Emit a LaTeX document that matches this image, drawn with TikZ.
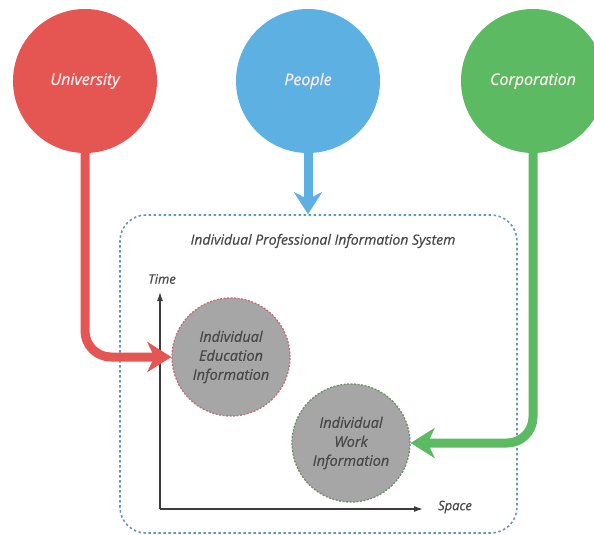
\documentclass[tikz,border=0pt]{standalone}
\usepackage{fontspec}
\setmainfont{Open Sans}
\newfontfamily\semib{Open Sans}[FakeBold=0.5]
\usetikzlibrary{arrows.meta}
\definecolor{cred}{RGB}{229,85,82}
\definecolor{cblue}{RGB}{92,176,226}
\definecolor{cgreen}{RGB}{92,186,98}
\definecolor{cbox}{RGB}{100,150,190}
\definecolor{cgrayfill}{RGB}{166,166,166}
\definecolor{cgraytext}{RGB}{72,72,72}
\definecolor{credge}{RGB}{190,110,120}
\definecolor{cgedge}{RGB}{110,140,110}
\definecolor{caxis}{RGB}{60,60,60}
\tikzset{
  bigcircle/.style={circle, minimum size=144pt, inner sep=0pt, text=white!92!red, font=\semib\fontsize{16}{18}\selectfont\itshape},
  infocircle/.style={circle, minimum size=118pt, inner sep=0pt, fill=cgrayfill, line width=1.3pt, dash pattern=on 2pt off 1.5pt, text=cgraytext, align=center, font=\semib\fontsize{14.5}{19}\selectfont\itshape},
  flow/.style={line width=9pt, rounded corners=26pt, -{Stealth[length=24pt,width=30pt,inset=7pt]}},
  axis/.style={line width=1.3pt, draw=caxis, -{Latex[length=9pt,width=6pt]}},
  axlabel/.style={text=cgraytext, font=\semib\fontsize{13}{15}\selectfont\itshape},
}
\begin{document}
\begin{tikzpicture}[x=1pt,y=-1pt]
\useasboundingbox (0,0) rectangle (594,535);
\clip (0,0) rectangle (594,535);
% system box
\node[draw=cbox, line width=1.6pt, dash pattern=on 2.5pt off 2.5pt, rounded corners=26pt, minimum width=397pt, minimum height=318pt, inner sep=0pt] (sys) at (318.5,374) {};
\node[axlabel, font=\semib\fontsize{14}{16}\selectfont\itshape] (title) at (323,241) {Individual Professional Information System};
% top circles
\node[bigcircle, fill=cred] (uni) at (85,81) {University};
\node[bigcircle, fill=cblue] (peo) at (308,81) {People};
\node[bigcircle, fill=cgreen] (corp) at (533,81) {Corporation};
% info circles
\node[infocircle, draw=credge] (edu) at (231,357) {Individual\\Education\\Information};
\node[infocircle, draw=cgedge] (work) at (351,443) {Individual\\Work\\Information};
% axes
\coordinate (O) at (160,509);
\coordinate (T) at (160,292);
\coordinate (S) at (423,509);
\draw[axis] (O) -- (T);
\draw[axis] (O) -- (S);
\node[axlabel] (tlab) at (162,279) {Time};
\node[axlabel] (slab) at (455,507) {Space};
% flows
\draw[flow, draw=cred] (uni.south) |- (edu.west);
\draw[flow, draw=cgreen] (corp.south) |- (work.east);
\draw[flow, draw=cblue, -{Stealth[length=22pt,width=28pt,inset=7pt]}] (peo.south) -- (peo.south |- sys.north);
\end{tikzpicture}
\end{document}
